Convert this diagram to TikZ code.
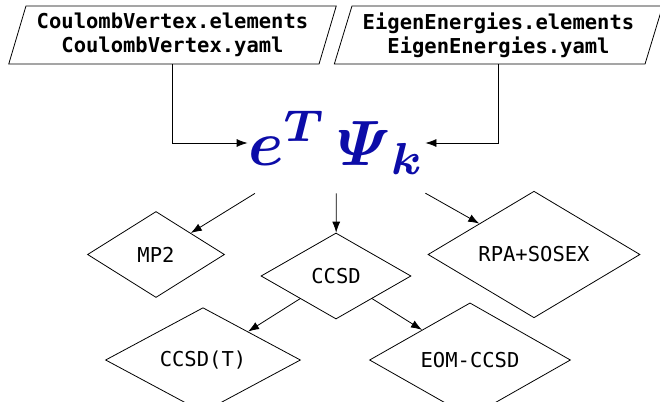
\documentclass[tikz,border=0pt]{standalone}
\usepackage{amsmath,amssymb}
\usepackage{graphicx}
\usepackage{fontspec}
\setmonofont{DejaVu Sans Mono}
\usepackage{tikz}
\usepackage{xcolor}
\usetikzlibrary{shapes.geometric,arrows.meta}
\definecolor{logoblue}{RGB}{12,12,168}
\tikzset{
  infile/.style={draw,trapezium,trapezium left angle=70,trapezium right angle=110,trapezium stretches=true,
    minimum width=329,minimum height=58,inner sep=0pt,align=center,font=\ttfamily\bfseries\fontsize{20.5}{24}\selectfont},
  method/.style={draw,diamond,inner sep=0pt,font=\ttfamily\fontsize{20.5}{24}\selectfont},
}
\begin{document}
\begin{tikzpicture}[x=1pt,y=-1pt,line width=0.8pt,>={Latex[length=11pt,width=8pt]}]
\useasboundingbox (0,0) rectangle (660,401);
\node[infile] (coulomb) at (172.5,35) {CoulombVertex.elements\\CoulombVertex.yaml};
\node[infile] (eigen) at (498.5,35) {EigenEnergies.elements\\EigenEnergies.yaml};
\node[minimum width=177,minimum height=100,inner sep=0pt,text=logoblue] (logo) at (336.5,143)
  {\scalebox{6.4}{$\boldsymbol{e}^{\boldsymbol{T}}\,\boldsymbol{\varPsi}_{\boldsymbol{k}}$}};
\draw[->] (coulomb) |- (logo);\draw[->] (eigen) |- (logo);
\foreach \n/\x/\y/\w/\lab in {mp2/156/254.5/137/MP2,ccsd/336/276/150/CCSD,rpa/534/254.5/212/RPA+SOSEX,
  ccsdt/203/360/195/{CCSD(T)},eom/470/360/201/EOM-CCSD} {\node[method,minimum width=\w,minimum height=86] (\n) at (\x,\y) {\lab};}
\foreach \a/\b in {logo/mp2,logo/ccsd,logo/rpa,ccsd/ccsdt,ccsd/eom} {\draw[->] (\a) -- (\b);}
\end{tikzpicture}
\end{document}
